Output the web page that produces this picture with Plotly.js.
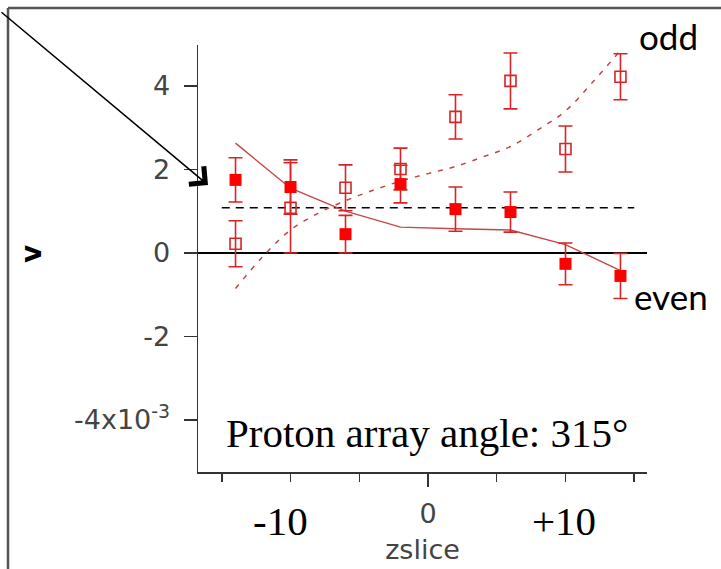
<!DOCTYPE html>
<html>
<head>
<meta charset="utf-8">
<script src="https://cdn.plot.ly/plotly-3.0.1.min.js"></script>
<style>html,body{margin:0;padding:0;background:#fff;}#chart{width:721px;height:569px;}</style>
</head>
<body>
<div id="chart"></div>
<script>
// ---- data ----
var zslice   = [-14, -10, -6, -2, 2, 6, 10, 14];
var evenV    = [1.75, 1.58, 0.45, 1.65, 1.05, 0.98, -0.26, -0.55];
var evenErr  = [0.53, 0.65, 0.45, 0.45, 0.53, 0.48, 0.50, 0.54];
var oddV     = [0.22, 1.08, 1.56, 2.01, 3.26, 4.12, 2.49, 4.22];
var oddErr   = [0.55, 1.08, 0.55, 0.50, 0.53, 0.67, 0.55, 0.55];
var evenFitX = [-14, -10, -6, -2, 2, 6, 10, 14];
var evenFitY = [2.63, 1.55, 1.0, 0.62, 0.58, 0.55, 0.2, -0.42];
var oddFitX  = [-14, -12, -10, -8, -6, -4, -2, 0, 2, 4, 6, 8, 10, 12, 14];
var oddFitY  = [-0.85, -0.08, 0.55, 0.95, 1.25, 1.5, 1.72, 1.9, 2.07, 2.3, 2.55, 2.95, 3.4, 4.1, 4.85];
var refX     = [-15, 15];
var refY     = [1.08, 1.08];
var yTickVals = [4, 2, 0, -2, -4];
var yTickText = ['4', '2', '0', '-2', '-4x10<sup>-3</sup>'];
var xMajorVals = [0];
var xMajorText = ['0'];
var xMinorVals = [-15, -10, -5, 5, 10, 15];

var sansTick = {family: 'DejaVu Sans', size: 27, color: '#444'};

var traces = [
  {x: refX, y: refY, mode: 'lines', line: {color: '#000', width: 1.5, dash: '8px,6px'}, hoverinfo: 'skip'},
  {x: oddFitX, y: oddFitY, mode: 'lines', line: {color: '#c04545', width: 1.5, dash: '5px,7px', shape: 'spline'}, hoverinfo: 'skip'},
  {x: evenFitX, y: evenFitY, mode: 'lines', line: {color: '#c44848', width: 1.4}, hoverinfo: 'skip'},
  {x: zslice, y: oddV, mode: 'markers',
   marker: {symbol: 'square-open', size: 11, color: '#d82424', line: {width: 1.6, color: '#d82424'}},
   error_y: {type: 'data', array: oddErr, visible: true, color: '#d82424', thickness: 1.6, width: 7}},
  {x: zslice, y: evenV, mode: 'markers',
   marker: {symbol: 'square', size: 12, color: '#ff0000', line: {width: 0}},
   error_y: {type: 'data', array: evenErr, visible: true, color: '#d82424', thickness: 1.6, width: 7}}
];

var L = 198, R = 74, T = 45, B = 97, W = 721, H = 569;
var pw = W - L - R, ph = H - T - B;
function px(x) { return (x - L) / pw; }
function py(y) { return (H - B - y) / ph; }

var layout = {
  width: W, height: H,
  margin: {l: L, r: R, t: T, b: B, pad: 0},
  paper_bgcolor: '#fff', plot_bgcolor: '#fff',
  showlegend: false,
  xaxis: {
    range: [-16.73, 15.93], showgrid: false, zeroline: false,
    showline: true, linecolor: '#333', linewidth: 1.5,
    ticks: 'outside', ticklen: 13, tickwidth: 1.5, tickcolor: '#333',
    tickmode: 'array', tickvals: xMajorVals, ticktext: xMajorText,
    ticklabelstandoff: 4,
    tickfont: sansTick,
    minor: {tickmode: 'array', tickvals: xMinorVals, ticks: 'outside', ticklen: 8, tickwidth: 1.5, tickcolor: '#333', showgrid: false},
    title: {text: 'zslice', font: sansTick, standoff: 12}
  },
  yaxis: {
    range: [-5.245, 4.98], showgrid: false,
    zeroline: true, zerolinecolor: '#000', zerolinewidth: 1.5,
    showline: true, linecolor: '#333', linewidth: 1.5,
    ticks: 'outside', ticklen: 13, tickwidth: 1.5, tickcolor: '#333',
    tickmode: 'array', tickvals: yTickVals, ticktext: yTickText,
    ticklabelstandoff: 8,
    tickfont: sansTick
  },
  shapes: [
    {type: 'line', xref: 'paper', yref: 'paper', x0: px(8), x1: px(8), y0: py(8), y1: py(575), line: {color: '#555', width: 2.5}},
    {type: 'line', xref: 'paper', yref: 'paper', x0: px(8), x1: px(725), y0: py(8), y1: py(8), line: {color: '#555', width: 2.5}}
  ],
  annotations: [
    {xref: 'paper', yref: 'paper', x: px(208), y: py(185), ax: -210, ay: -174, axref: 'pixel', ayref: 'pixel',
     showarrow: true, arrowhead: 4, arrowsize: 2.8, arrowwidth: 1.6, arrowcolor: '#000', text: ''},
    {xref: 'paper', yref: 'paper', x: px(31), y: py(254), text: '<b>v</b>', showarrow: false, textangle: -90,
     font: {family: 'DejaVu Sans', size: 28, color: '#000'}, xanchor: 'center', yanchor: 'middle'},
    {xref: 'paper', yref: 'paper', x: px(427), y: py(433), text: 'Proton array angle: 315°', showarrow: false,
     font: {family: 'Liberation Serif', size: 41, color: '#000'}, xanchor: 'center', yanchor: 'middle'},
    {xref: 'paper', yref: 'paper', x: px(280), y: py(521), text: '-10', showarrow: false,
     font: {family: 'Liberation Serif', size: 41, color: '#000'}, xanchor: 'center', yanchor: 'middle'},
    {xref: 'paper', yref: 'paper', x: px(564), y: py(521), text: '+10', showarrow: false,
     font: {family: 'Liberation Serif', size: 41, color: '#000'}, xanchor: 'center', yanchor: 'middle'},
    {xref: 'paper', yref: 'paper', x: px(668), y: py(36), text: 'odd', showarrow: false,
     font: {family: 'Lato', size: 35, color: '#000'}, xanchor: 'center', yanchor: 'middle'},
    {xref: 'paper', yref: 'paper', x: px(671), y: py(296), text: 'even', showarrow: false,
     font: {family: 'Lato', size: 35, color: '#000'}, xanchor: 'center', yanchor: 'middle'}
  ]
};

Plotly.newPlot('chart', traces, layout, {staticPlot: true, displayModeBar: false});
</script>
</body>
</html>
